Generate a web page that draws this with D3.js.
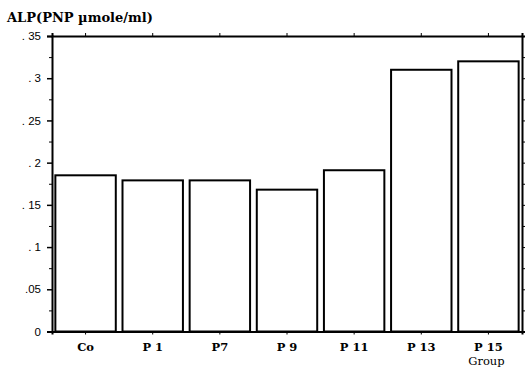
<!DOCTYPE html>
<html><head><meta charset="utf-8">
<script src="https://cdn.jsdelivr.net/npm/d3@7/dist/d3.min.js"></script>
<style>body{margin:0;background:#fff}svg{display:block}</style>
</head><body>
<script>
const categories = ["Co","P 1","P7","P 9","P 11","P 13","P 15"];
const values = [0.185, 0.179, 0.179, 0.168, 0.191, 0.310, 0.320];
const yTicks = [0, 0.05, 0.1, 0.15, 0.2, 0.25, 0.3, 0.35];
const yTickLabels = ["0", ".05", ". 1", ". 15", ". 2", ". 25", ". 3", ". 35"];
const minorTicks = [0.025, 0.075, 0.125, 0.175, 0.225, 0.275, 0.325];
const yTitle = "ALP(PNP \u00b5mole/ml)";
const xTitle = "Group";

const W = 527, H = 369;
const m = {l:52, r:5, t:36, b:37.5};
const svg = d3.select("body").append("svg").attr("width",W).attr("height",H);
const x = d3.scaleBand().domain(categories).range([m.l, W-m.r]).paddingInner(0.1).paddingOuter(0.05);
const y = d3.scaleLinear().domain([0,0.35]).range([H-m.b, m.t]);

// bars
svg.append("g").selectAll("rect").data(values).join("rect")
  .attr("x",(d,i)=>x(categories[i])).attr("width",x.bandwidth())
  .attr("y",d=>y(d)).attr("height",d=>y(0)-y(d))
  .attr("fill","#fff").attr("stroke","#000").attr("stroke-width",2);

// left axis
const gl = svg.append("g").attr("transform",`translate(${m.l},0)`)
  .call(d3.axisLeft(y).tickValues(yTicks).tickFormat((d,i)=>yTickLabels[i]).tickSize(5).tickPadding(6));
gl.select(".domain").attr("stroke-width",2);
gl.selectAll(".tick line").attr("stroke-width",1.5);
gl.selectAll("text").attr("font-family","Liberation Sans, Arial, sans-serif").attr("font-size",11.5).attr("fill","#000");
svg.append("g").attr("transform",`translate(${m.l},0)`)
  .call(d3.axisLeft(y).tickValues(minorTicks).tickFormat("").tickSize(3))
  .call(g=>g.select(".domain").remove());

// right axis
const gr = svg.append("g").attr("transform",`translate(${W-m.r},0)`)
  .call(d3.axisRight(y).tickValues(yTicks.concat(minorTicks)).tickFormat("").tickSize(3));
gr.select(".domain").attr("stroke-width",2);

// bottom axis
const gb = svg.append("g").attr("transform",`translate(0,${y(0)})`)
  .call(d3.axisBottom(x).tickSize(3).tickPadding(8));
gb.select(".domain").attr("stroke-width",2);
gb.selectAll("text").attr("font-family","DejaVu Serif, serif").attr("font-weight","bold").attr("font-size",11.5).attr("fill","#000");

// top axis
const gt = svg.append("g").attr("transform",`translate(0,${m.t})`)
  .call(d3.axisTop(x).tickSize(3).tickFormat(""));
gt.select(".domain").attr("stroke-width",2);

// titles
svg.append("text").attr("x",7).attr("y",22).text(yTitle)
  .attr("font-family","DejaVu Serif, serif").attr("font-weight","bold").attr("font-size",13);
svg.append("text").attr("x",x(categories[6])+x.bandwidth()/2-2).attr("y",365).attr("text-anchor","middle").text(xTitle)
  .attr("font-family","DejaVu Serif, serif").attr("font-size",11.5);
</script>
</body></html>
